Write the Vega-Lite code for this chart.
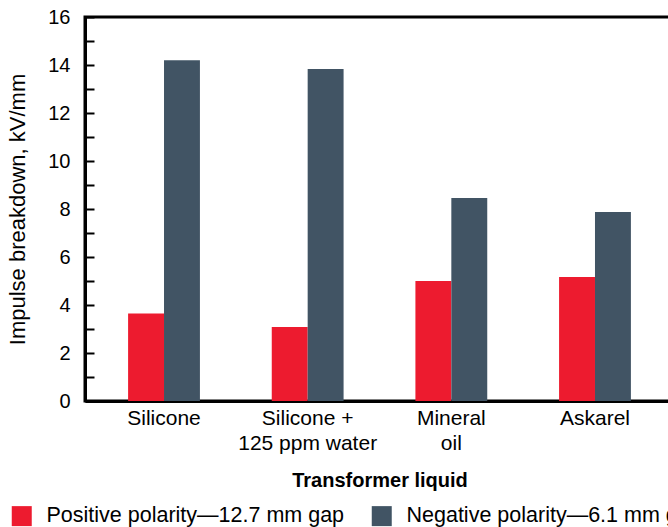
{
  "$schema": "https://vega.github.io/schema/vega-lite/v6.json",
  "autosize": "none",
  "padding": {"left": 85, "top": 17, "right": 0, "bottom": 126},
  "width": 589,
  "height": 384,
  "background": "white",
  "config": {
    "font": "Liberation Sans",
    "view": {"stroke": "black", "strokeWidth": 3},
    "axis": {"labelColor": "black", "titleColor": "black", "domainColor": "black", "tickColor": "black", "grid": false}
  },
  "data": {
    "values": [
      {"liquid": "Silicone", "polarity": "Positive polarity—12.7 mm gap", "value": 3.65},
      {"liquid": "Silicone", "polarity": "Negative polarity—6.1 mm gap", "value": 14.2},
      {"liquid": "Silicone + 125 ppm water", "polarity": "Positive polarity—12.7 mm gap", "value": 3.08},
      {"liquid": "Silicone + 125 ppm water", "polarity": "Negative polarity—6.1 mm gap", "value": 13.83},
      {"liquid": "Mineral oil", "polarity": "Positive polarity—12.7 mm gap", "value": 5.0},
      {"liquid": "Mineral oil", "polarity": "Negative polarity—6.1 mm gap", "value": 8.46},
      {"liquid": "Askarel", "polarity": "Positive polarity—12.7 mm gap", "value": 5.17},
      {"liquid": "Askarel", "polarity": "Negative polarity—6.1 mm gap", "value": 7.88}
    ]
  },
  "mark": {"type": "bar"},
  "encoding": {
    "x": {
      "field": "liquid", "type": "nominal", "sort": null,
      "scale": {"paddingInner": 0.5, "paddingOuter": 0.3},
      "axis": {
        "title": "Transformer liquid", "titleFontSize": 20, "titleFontWeight": "bold", "titlePadding": 17,
        "labelAngle": 0, "labelFontSize": 21, "labelLineHeight": 25, "labelPadding": 6,
        "ticks": false, "domainWidth": 3,
        "labelExpr": "datum.label == 'Silicone + 125 ppm water' ? ['Silicone +', '125 ppm water'] : datum.label == 'Mineral oil' ? ['Mineral', 'oil'] : datum.label"
      }
    },
    "xOffset": {"field": "polarity", "type": "nominal", "sort": ["Positive polarity—12.7 mm gap", "Negative polarity—6.1 mm gap"]},
    "y": {
      "field": "value", "type": "quantitative",
      "scale": {"domain": [0, 16], "nice": false},
      "axis": {
        "title": "Impulse breakdown, kV/mm", "titleFontSize": 22, "titleFontWeight": "normal", "titlePadding": 18,
        "values": [0,1,2,3,4,5,6,7,8,9,10,11,12,13,14,15,16],
        "labelExpr": "datum.value % 2 == 0 ? datum.label : ''",
        "labelFontSize": 20, "tickSize": -9, "tickWidth": 2, "labelPadding": 24, "domainWidth": 3
      }
    },
    "color": {
      "field": "polarity", "type": "nominal",
      "sort": ["Positive polarity—12.7 mm gap", "Negative polarity—6.1 mm gap"],
      "scale": {"range": ["#ED1B2F", "#415464"]},
      "legend": {
        "title": null, "orient": "none", "direction": "horizontal",
        "legendX": -74, "legendY": 488,
        "symbolType": "square", "symbolSize": 400, "symbolStrokeWidth": 0, "symbolOpacity": 1,
        "labelFontSize": 21.5, "labelColor": "black", "labelOffset": 14, "columnPadding": 26,
        "labelLimit": 1000
      }
    }
  }
}
